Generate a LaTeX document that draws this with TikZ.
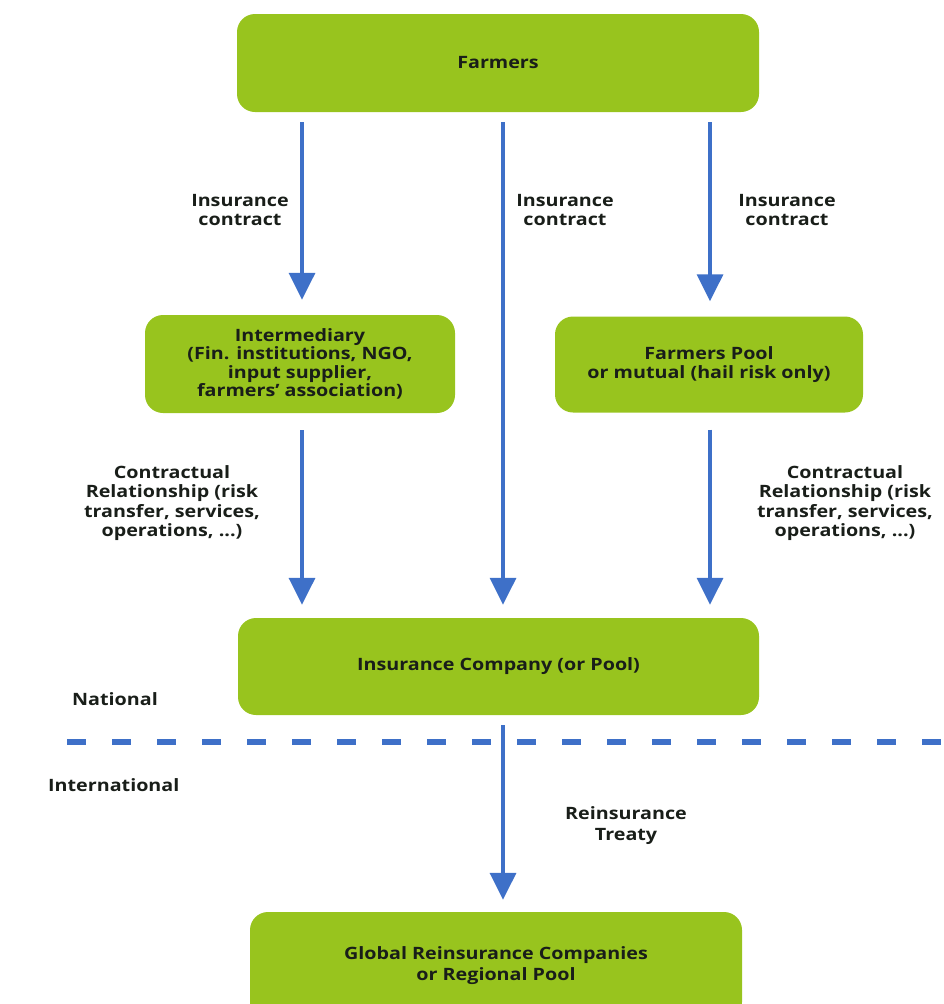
\documentclass[tikz,border=0pt]{standalone}
\usepackage{fontspec}
\setmainfont{Open Sans}[FakeStretch=1.16]
\usetikzlibrary{arrows.meta,calc}
\definecolor{boxgreen}{RGB}{152,196,30}
\definecolor{arrblue}{RGB}{62,112,200}
\definecolor{txt}{RGB}{25,30,25}
\begin{document}
\begin{tikzpicture}[x=1pt,y=-1pt,
  box/.style={fill=boxgreen, rounded corners=18pt, draw=none, align=center,
    font=\bfseries\fontsize{17}{18.5}\selectfont, text=txt, inner sep=0pt},
  lbl/.style={align=center, font=\bfseries\fontsize{17}{18.5}\selectfont, text=txt, inner sep=0pt},
  arr/.style={draw=arrblue, line width=3.5pt, -{Triangle[length=27pt,width=26pt]}},
  dashline/.style={draw=arrblue, line width=6pt, dash pattern=on 19pt off 26pt}
]
\path[use as bounding box] (0,0) rectangle (944,1004);
\clip (0,0) rectangle (944,1004);

\node[box, minimum width=522pt, minimum height=98pt] (farmers) at (498,63) {Farmers};
\node[box, minimum width=310pt, minimum height=98pt] (inter) at (300,364)
  {Intermediary\\(Fin. institutions, NGO,\\input supplier,\\farmers' association)};
\node[box, minimum width=308pt, minimum height=96pt] (pool) at (709,364.5)
  {Farmers Pool\\or mutual (hail risk only)};
\node[box, minimum width=521pt, minimum height=97pt] (insco) at (498.5,666.5)
  {Insurance Company (or Pool)};
\node[box, minimum width=492pt, minimum height=108pt,
  font=\bfseries\fontsize{17}{21}\selectfont] (global) at (496,966)
  {Global Reinsurance Companies\\or Regional Pool};

\coordinate (xL) at (302,0);
\coordinate (xM) at (503,0);
\coordinate (xR) at (710,0);

\draw[dashline] (67,742) -- (944,742);

\draw[arr, shorten <=10pt, shorten >=15pt] (farmers.south -| xL) -- (inter.north -| xL);
\draw[arr, shorten <=10pt, shorten >=13pt] (farmers.south -| xM) -- (insco.north -| xM);
\draw[arr, shorten <=10pt, shorten >=15pt] (farmers.south -| xR) -- (pool.north -| xR);
\draw[arr, shorten <=17pt, shorten >=13pt] (inter.south -| xL) -- (insco.north -| xL);
\draw[arr, shorten <=17pt, shorten >=13pt] (pool.south -| xR) -- (insco.north -| xR);
\draw[arr, shorten <=10pt, shorten >=12pt] (insco.south -| xM) -- (global.north -| xM);

\node[lbl] (l1) at (240,210) {Insurance\\contract};
\node[lbl] (l2) at (565,210) {Insurance\\contract};
\node[lbl] (l3) at (787,210) {Insurance\\contract};
\node[lbl, font=\bfseries\fontsize{17}{19.5}\selectfont] (l4) at (172,503)
  {Contractual\\Relationship (risk\\transfer, services,\\operations, ...)};
\node[lbl, font=\bfseries\fontsize{17}{19.5}\selectfont] (l5) at (845,503)
  {Contractual\\Relationship (risk\\transfer, services,\\operations, ...)};
\node[lbl, anchor=west] (nat) at (72,699) {National};
\node[lbl, anchor=west] (intl) at (48,785) {International};
\node[lbl, font=\bfseries\fontsize{17}{21}\selectfont] (rt) at (626,826) {Reinsurance\\Treaty};
\end{tikzpicture}
\end{document}
